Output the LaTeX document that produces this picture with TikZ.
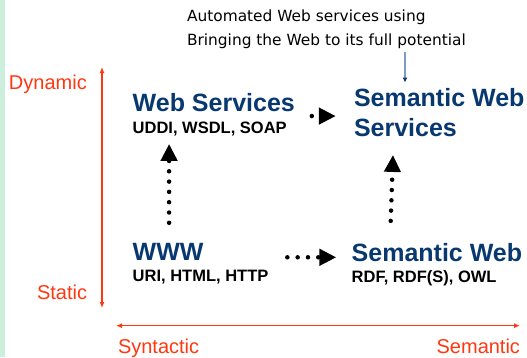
\documentclass[tikz,border=0pt]{standalone}
\usepackage{fontspec}
\setmainfont{Liberation Sans}
\newfontfamily\verd{DejaVu Sans}
\usetikzlibrary{arrows.meta,calc}
\definecolor{navy}{RGB}{8,56,112}
\definecolor{axisred}{RGB}{255,55,15}
\definecolor{stripgreen}{RGB}{204,238,221}
\definecolor{thinblue}{RGB}{128,156,192}
\definecolor{tipblue}{RGB}{25,55,105}
\begin{document}
\begin{tikzpicture}[x=1pt,y=-1pt,
  every node/.style={inner sep=0pt,outer sep=0pt,anchor=base west},
  bigtitle/.style={text=navy,font=\fontsize{25}{30}\selectfont\bfseries},
  subtitle/.style={text=black,font=\fontsize{16.5}{19}\selectfont\bfseries},
  axislabel/.style={text=axisred,font=\fontsize{20}{24}\selectfont},
  note/.style={text=black,font=\verd\fontsize{15.4}{18}\selectfont},
  dotarr/.style={line width=4.5pt,line cap=round,dash pattern=on 0pt off 10.3pt,
     -{Triangle[length=17pt,width=16pt,line cap=butt]}},
  axisarr/.style={axisred,line width=1.3pt,{Latex[length=6pt,width=5pt]}-{Latex[length=6pt,width=5pt]}},
  thinarr/.style={thinblue,line width=1.5pt,-{Latex[length=5pt,width=5pt,color=tipblue]}}]
\useasboundingbox (0,0) rectangle (527,357);
\fill[stripgreen] (0,0) rectangle (5,357);

% top note
\node[note] (line1) at (187,21.7) {Automated Web services using};
\node[note] (line2) at (187,45.7) {Bringing the Web to its full potential};

% axis labels
\node[axislabel] (dyn) at (9,89) {Dynamic};
\node[axislabel] (stat) at (37,299) {Static};
\node[axislabel] (syn) at (118,353.5) {Syntactic};
\node[axislabel,anchor=base east] (sem) at (520,353.5) {Semantic};

% axes
\coordinate (ytop) at (102,67);
\coordinate (ybot) at (102,308);
\coordinate (xleft) at (116,325.7);
\coordinate (xright) at (520,325.7);
\draw[axisarr] (ytop) -- (ybot);
\draw[axisarr] (xleft) -- (xright);

% main boxes
\node[bigtitle] (ws) at (132.7,111) {Web Services};
\node[subtitle] (uddi) at (132.7,133.3) {UDDI, WSDL, SOAP};
\node[bigtitle] (sw1) at (354,106.7) {Semantic Web};
\node[bigtitle] (sw2) at (354,136.7) {Services};
\node[bigtitle] (www) at (132.7,260) {WWW};
\node[subtitle] (uri) at (132.7,281.7) {URI, HTML, HTTP};
\node[bigtitle] (swb) at (351.7,261) {Semantic Web};
\node[subtitle] (rdf) at (351.7,282.7) {RDF, RDF(S), OWL};

% dotted arrows
\draw[dotarr] ($(www.north)+(1,-20)$) -- ($(www.north |- uddi.south)+(1,8)$);
\draw[dotarr] ($(swb.north west)+(39,-22)$) -- ($(sw2.south west)+(39,18)$);
\draw[dotarr] ($(ws.east)+(17,14)$) -- ++(24,0);
\draw[dotarr] ($(uri.east)+(19,-20)$) -- ++(49,0);

% thin note arrow
\coordinate (notetip) at ($(sw1.north west)+(51,-6)$);
\draw[thinarr,shorten <=3pt] (notetip |- line2.south) -- (notetip);
\end{tikzpicture}
\end{document}
